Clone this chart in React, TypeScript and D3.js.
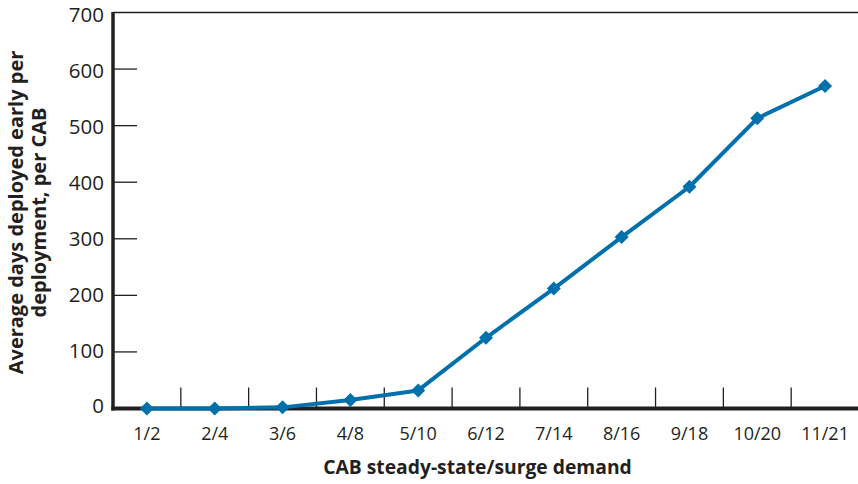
import React from "react";
import * as d3 from "d3";

const categories = ["1/2", "2/4", "3/6", "4/8", "5/10", "6/12", "7/14", "8/16", "9/18", "10/20", "11/21"];
const values = [0, 0, 2, 15, 32, 125, 212, 303, 392, 513, 570];
const yTicks = [0, 100, 200, 300, 400, 500, 600, 700];

const W = 858;
const H = 484;
const LEFT = 113;
const RIGHT = 859;
const TOP = 12.5;
const BOTTOM = 408.5;
const TEXT = "#231F20";
const BLUE = "#0070AC";
const FONT = "'Open Sans', 'Noto Sans', sans-serif";

export default function App() {
  const x = d3.scaleBand<string>().domain(categories).range([LEFT, RIGHT]).padding(0);
  const y = d3.scaleLinear().domain([0, 700]).range([BOTTOM, TOP]);
  const yLabel = d3.scaleLinear().domain([0, 700]).range([406, 15]);
  const cx = (c: string) => (x(c) as number) + x.bandwidth() / 2;
  const line = d3
    .line<number>()
    .x((_, i) => cx(categories[i]))
    .y((d) => y(d));
  const diamond = d3.symbol().type(d3.symbolDiamond2).size(125)();

  return (
    <svg width={W} height={H} style={{ position: "absolute", left: 0, top: 0, background: "#fff" }}>
      <line x1={LEFT} x2={W} y1={y(700)} y2={y(700)} stroke={TEXT} strokeWidth={1.3} />
      {yTicks.map((t) => (
        <g key={t}>
          {t > 0 && t < 700 && (
            <line x1={LEFT} x2={LEFT + 24} y1={y(t)} y2={y(t)} stroke={TEXT} strokeWidth={1.3} />
          )}
          <text
            x={104}
            y={yLabel(t)}
            dy="0.36em"
            textAnchor="end"
            fontFamily={FONT}
            fontSize={20.5}
            fill={TEXT}
          >
            {t}
          </text>
        </g>
      ))}
      {categories.slice(1).map((c) => (
        <line
          key={c}
          x1={x(c) as number}
          x2={x(c) as number}
          y1={BOTTOM - 21}
          y2={BOTTOM}
          stroke={TEXT}
          strokeWidth={1.3}
        />
      ))}
      {categories.map((c) => (
        <text
          key={c}
          x={cx(c)}
          y={439.5}
          textAnchor="middle"
          fontFamily={FONT}
          fontSize={18}
          fill={TEXT}
        >
          {c}
        </text>
      ))}
      <line x1={LEFT} x2={LEFT} y1={TOP - 0.6} y2={BOTTOM + 2} stroke={TEXT} strokeWidth={3.5} />
      <line x1={LEFT - 1.7} x2={W} y1={BOTTOM} y2={BOTTOM} stroke={TEXT} strokeWidth={4} />
      <path d={line(values) || ""} fill="none" stroke={BLUE} strokeWidth={4} strokeLinejoin="round" />
      {values.map((v, i) => (
        <path
          key={i}
          d={diamond || ""}
          transform={`translate(${cx(categories[i])},${y(v)})`}
          fill={BLUE}
        />
      ))}
      <text
        x={477.5}
        y={474}
        textAnchor="middle"
        fontFamily={FONT}
        fontSize={19.3}
        fontWeight="bold"
        fill={TEXT}
      >
        CAB steady-state/surge demand
      </text>
      <g transform="translate(0,212.5) rotate(-90)">
        <text textAnchor="middle" y={23} fontFamily={FONT} fontSize={20} fontWeight="bold" fill={TEXT}>
          Average days deployed early per
        </text>
        <text textAnchor="middle" y={46} fontFamily={FONT} fontSize={20} fontWeight="bold" fill={TEXT}>
          deployment, per CAB
        </text>
      </g>
    </svg>
  );
}
